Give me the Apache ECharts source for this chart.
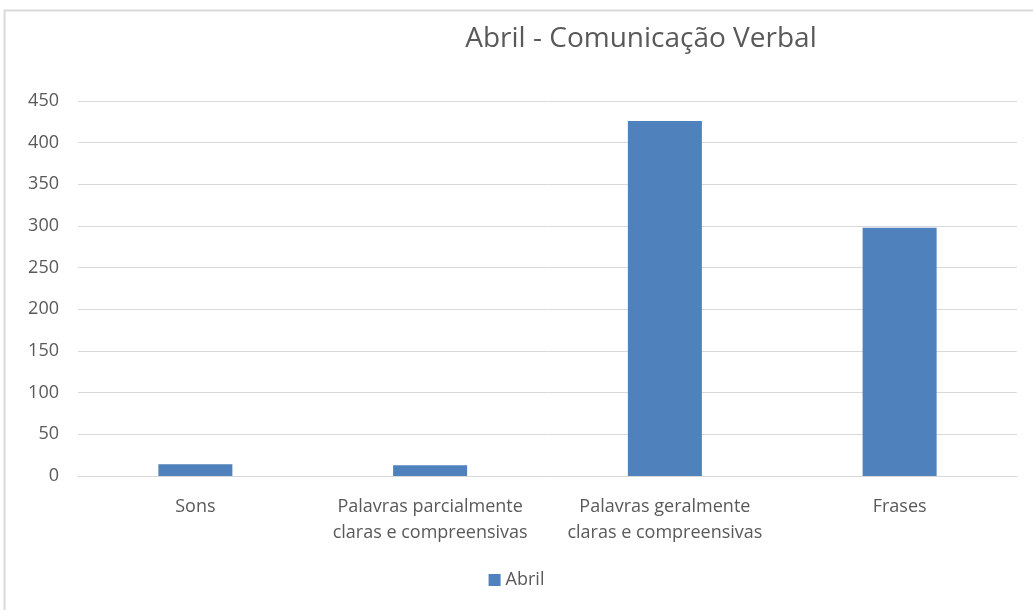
<!DOCTYPE html>
<html><head><meta charset="utf-8">
<script src="https://cdn.jsdelivr.net/npm/echarts@6/dist/echarts.min.js"></script>
<style>html,body{margin:0;padding:0;background:#fff}#c{width:1033px;height:610px}</style>
</head><body><div id="c"></div>
<script>
const categories = ['Sons', 'Palavras parcialmente\nclaras e compreensivas', 'Palavras geralmente\nclaras e compreensivas', 'Frases'];
const seriesName = 'Abril';
const values = [14, 13, 426, 298];
const titleText = 'Abril - Comunicação Verbal';

const chart = echarts.init(document.getElementById('c'));
const FONT = '"Open Sans", "Noto Sans", sans-serif';
chart.setOption({
  animation: false,
  graphic: [{type:'rect', shape:{x:4.5,y:10.5,width:1040,height:620}, style:{fill:'none', stroke:'#d9d9d9', lineWidth:2}, z:-1}],
  title: {text: titleText, left: 636, textAlign: 'center', top: 20,
    textStyle: {fontFamily: FONT, fontSize: 28, fontWeight: 'normal', color: '#595959'}},
  legend: {data:[seriesName], bottom: 16, left: 'center', itemWidth: 12, itemHeight: 12, itemGap: 4,
    icon: 'rect', textStyle: {fontFamily: FONT, fontSize: 18, color: '#595959'}},
  grid: {left: 78, right: 16, top: 101, bottom: 134},
  xAxis: {type:'category', data: categories,
    axisLine:{lineStyle:{color:'#d9d9d9'}}, axisTick:{show:false},
    axisLabel:{fontFamily: FONT, fontSize: 18, color:'#595959', lineHeight: 26, margin: 18, interval: 0}},
  yAxis: {type:'value', min:0, max:450, interval:50,
    axisLine:{show:false}, axisTick:{show:false},
    splitLine:{lineStyle:{color:'#d9d9d9'}},
    axisLabel:{fontFamily: FONT, fontSize: 18, color:'#595959', margin: 19}},
  series: [{name: seriesName, type:'bar', data: values, barWidth: 74,
    itemStyle:{color:'#4f81bd'}}]
});
</script></body></html>
